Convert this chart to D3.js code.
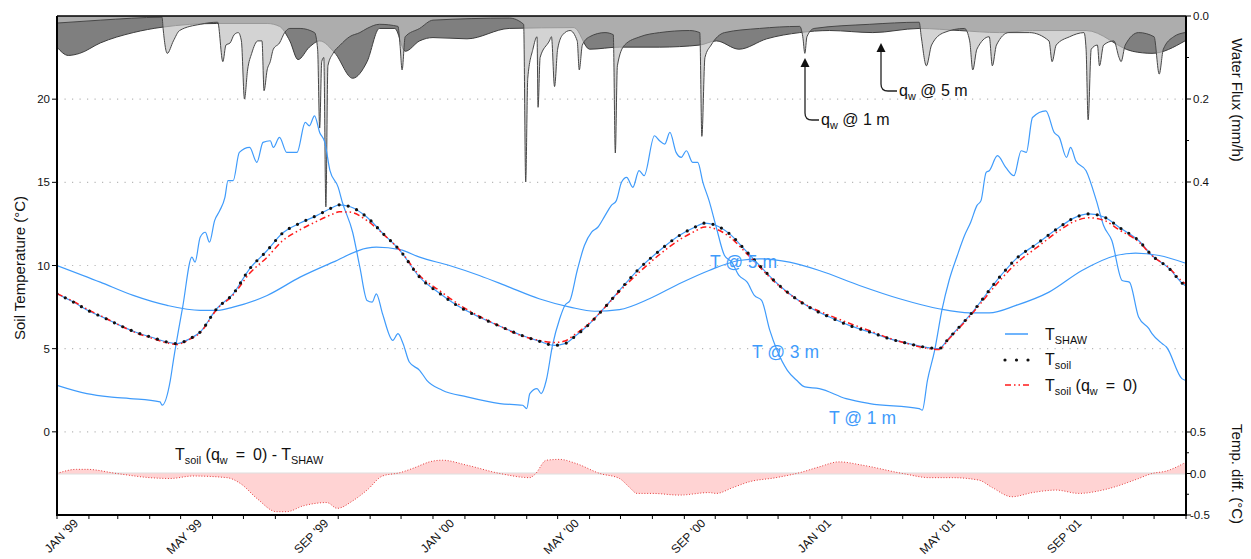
<!DOCTYPE html>
<html>
<head>
<meta charset="utf-8">
<script src="https://cdn.jsdelivr.net/npm/d3@7"></script>
<style>
  body { margin: 0; background: #fff; }
  svg { display: block; }
  text { font-family: "Liberation Sans", Arial, Helvetica, sans-serif; fill: #111; }
</style>
</head>
<body>
<svg id="chart" width="1251" height="559"></svg>
<script>
// ---- Data (day = days since 1 Jan 1999) ----
const shaw1m = [[0,2.8],[29,2.3],[51,2.1],[71,2.0],[100,1.8],[102,1.6],[110,3.1],[113,4.3],[122,7.5],[131,10.5],[134,10.2],[139,11.7],[144,12.0],[148,11.4],[153,12.7],[158,13.3],[163,14.1],[166,15.1],[171,15.1],[177,16.8],[187,17.1],[194,16.2],[200,17.4],[207,17.5],[210,17.1],[216,17.7],[223,16.8],[233,16.8],[241,18.6],[245,18.4],[250,19.0],[255,18.0],[260,17.4],[265,15.7],[273,14.7],[277,13.8],[287,12.0],[294,9.9],[301,7.9],[306,7.8],[310,8.3],[316,7.1],[326,5.5],[331,5.9],[336,5.3],[342,4.2],[352,3.7],[359,3.1],[374,2.5],[398,2.1],[430,1.7],[452,1.6],[456,1.4],[459,2.3],[466,2.6],[470,2.3],[475,3.1],[481,5.2],[488,6.8],[493,7.6],[498,7.9],[505,9.7],[512,11.2],[519,12.0],[525,12.3],[532,13.0],[538,13.6],[543,13.9],[548,15.0],[553,15.3],[559,14.7],[565,15.7],[570,15.4],[580,17.8],[585,17.5],[590,17.3],[595,18.0],[601,16.8],[606,16.5],[611,16.9],[617,16.2],[622,16.2],[627,15.0],[633,13.9],[640,12.3],[648,10.6],[655,10.2],[662,9.4],[670,9.0],[677,8.2],[684,7.9],[692,6.1],[699,4.9],[709,3.7],[718,3.1],[726,2.7],[740,2.6],[766,2.0],[789,1.7],[837,1.4],[840,1.3],[845,3.1],[852,4.9],[859,7.3],[866,9.1],[874,10.6],[881,11.8],[887,12.6],[893,13.6],[897,13.9],[902,15.6],[905,15.7],[913,16.6],[921,15.9],[929,15.4],[936,16.9],[941,16.8],[947,18.9],[960,19.3],[968,18.0],[973,17.7],[980,16.5],[984,17.1],[989,16.3],[999,15.7],[1009,13.9],[1016,12.4],[1024,11.5],[1034,9.1],[1041,9.0],[1050,6.9],[1060,6.2],[1063,5.9],[1073,5.3],[1077,5.1],[1092,3.2],[1095,3.1]];

const shaw3m = [[0,8.3],[16,7.8],[30,7.3],[46,6.85],[61,6.4],[76,6.0],[91,5.7],[107,5.4],[116,5.3],[129,5.6],[139,6.0],[155,7.4],[171,8.3],[187,9.8],[204,10.9],[219,11.95],[236,12.55],[252,13.0],[268,13.5],[274,13.65],[284,13.55],[301,12.9],[316,11.95],[333,10.9],[352,9.3],[372,8.3],[391,7.5],[410,6.9],[430,6.35],[449,5.85],[468,5.45],[483,5.2],[493,5.3],[502,5.7],[517,6.5],[532,7.5],[546,8.5],[565,9.8],[585,10.9],[604,11.8],[619,12.3],[629,12.55],[638,12.45],[653,11.9],[667,11.0],[682,10.0],[696,9.1],[711,8.3],[730,7.5],[750,6.9],[769,6.4],[789,6.0],[808,5.6],[827,5.3],[847,5.05],[856,5.0],[866,5.65],[888,7.15],[915,9.3],[931,10.4],[951,11.3],[973,12.3],[987,12.85],[1002,13.1],[1017,12.9],[1031,12.3],[1050,11.5],[1063,10.6],[1080,9.8],[1092,8.95],[1095,8.8]];

const shaw5m = [[0,10.0],[42,9.0],[74,8.2],[107,7.6],[139,7.3],[155,7.3],[171,7.5],[204,8.2],[236,9.3],[268,10.2],[301,11.05],[310,11.1],[333,10.95],[352,10.5],[381,10.0],[410,9.4],[439,8.7],[468,8.0],[498,7.5],[522,7.25],[546,7.35],[575,8.0],[604,8.9],[633,9.7],[662,10.3],[682,10.4],[711,10.2],[740,9.7],[779,8.8],[818,8.0],[856,7.4],[886,7.15],[905,7.15],[931,7.6],[963,8.4],[995,9.7],[1028,10.6],[1047,10.75],[1070,10.6],[1095,10.15]];

const soil3m = shaw3m.map(d => d.slice());

const soil3mNoFlow = [[0,8.3],[16,7.84],[30,7.35],[46,6.87],[61,6.4],[76,5.97],[91,5.65],[107,5.34],[116,5.25],[129,5.57],[139,5.96],[155,7.35],[171,8.23],[187,9.53],[204,10.5],[219,11.49],[236,12.15],[252,12.65],[268,13.1],[274,13.23],[284,13.21],[301,12.7],[316,11.92],[333,10.91],[352,9.4],[372,8.46],[391,7.62],[410,6.95],[430,6.35],[449,5.82],[468,5.5],[483,5.37],[493,5.46],[502,5.82],[517,6.54],[532,7.49],[546,8.44],[565,9.58],[585,10.66],[604,11.54],[619,12.05],[629,12.32],[638,12.23],[653,11.72],[667,10.88],[682,9.92],[696,9.05],[711,8.28],[730,7.54],[750,7.0],[769,6.53],[789,6.08],[808,5.63],[827,5.28],[847,5.0],[856,4.95],[866,5.59],[888,7.08],[915,9.08],[931,10.12],[951,11.07],[973,12.1],[987,12.63],[1002,12.87],[1017,12.7],[1031,12.15],[1050,11.43],[1063,10.6],[1080,9.83],[1092,9.07],[1095,8.93]];

const tempDiff = [[0,0],[19,0.05],[29,0.05],[58,0],[90,-0.05],[110,-0.06],[132,-0.03],[165,-0.05],[178,-0.12],[194,-0.3],[213,-0.46],[223,-0.46],[239,-0.39],[262,-0.35],[272,-0.42],[287,-0.33],[301,-0.2],[316,-0.03],[333,0.01],[345,0.06],[365,0.15],[374,0.16],[398,0.1],[430,0],[459,-0.05],[464,-0.01],[475,0.16],[488,0.17],[504,0.12],[527,0],[546,-0.06],[556,-0.17],[563,-0.24],[578,-0.24],[604,-0.26],[633,-0.23],[640,-0.24],[656,-0.17],[672,-0.1],[698,-0.05],[721,0.01],[740,0.08],[759,0.14],[782,0.1],[821,0],[847,-0.05],[869,-0.05],[895,-0.08],[908,-0.17],[927,-0.28],[947,-0.23],[970,-0.2],[992,-0.24],[1015,-0.2],[1048,-0.07],[1063,0],[1077,0.03],[1095,0.13]];

const flux5m = [[0,0.075],[11,0.095],[22,0.09],[42,0.065],[74,0.04],[102,0.027],[155,0.018],[204,0.018],[216,0.025],[226,0.06],[234,0.105],[245,0.075],[255,0.06],[270,0.09],[287,0.15],[301,0.11],[313,0.03],[328,0.03],[338,0.085],[352,0.06],[365,0.052],[398,0.055],[439,0.03],[502,0.028],[517,0.08],[546,0.075],[585,0.075],[624,0.07],[640,0.06],[662,0.08],[689,0.055],[721,0.04],[750,0.035],[792,0.04],[837,0.03],[876,0.035],[915,0.04],[947,0.035],[999,0.035],[1044,0.085],[1063,0.09],[1095,0.06]];

const flux1m = [[0,0.017],[42,0.01],[102,0.003],[103,0.03],[107,0.09],[113,0.06],[119,0.035],[139,0.02],[156,0.015],[161,0.11],[164,0.07],[168,0.065],[172,0.045],[176,0.04],[179,0.06],[182,0.2],[185,0.13],[189,0.09],[195,0.06],[199,0.06],[201,0.18],[204,0.13],[207,0.11],[210,0.08],[216,0.065],[221,0.04],[226,0.03],[236,0.03],[250,0.04],[253,0.08],[255,0.27],[257,0.11],[259,0.1],[261,0.46],[263,0.12],[268,0.09],[275,0.07],[284,0.05],[294,0.04],[301,0.03],[313,0.02],[331,0.025],[333,0.07],[335,0.13],[338,0.05],[352,0.03],[365,0.01],[439,0.005],[453,0.02],[455,0.4],[457,0.15],[462,0.08],[466,0.05],[467,0.22],[469,0.1],[478,0.06],[480,0.05],[483,0.17],[486,0.08],[491,0.045],[498,0.035],[505,0.06],[507,0.13],[510,0.07],[517,0.05],[532,0.04],[540,0.045],[542,0.33],[544,0.12],[551,0.07],[566,0.05],[585,0.04],[614,0.035],[624,0.04],[626,0.29],[629,0.1],[635,0.07],[648,0.04],[682,0.03],[721,0.025],[724,0.05],[726,0.09],[728,0.05],[735,0.03],[789,0.02],[837,0.015],[839,0.05],[844,0.12],[849,0.07],[861,0.04],[881,0.03],[886,0.06],[889,0.13],[893,0.08],[905,0.05],[908,0.12],[912,0.07],[924,0.04],[944,0.04],[963,0.06],[966,0.11],[970,0.07],[983,0.05],[997,0.04],[999,0.08],[1001,0.25],[1004,0.08],[1010,0.07],[1012,0.12],[1016,0.07],[1026,0.06],[1031,0.1],[1033,0.11],[1037,0.07],[1050,0.04],[1065,0.05],[1070,0.14],[1074,0.08],[1084,0.05],[1095,0.04]];

const tempTicks = [0, 5, 10, 15, 20];
const fluxTicks = [0, 0.2, 0.4];
const fluxMinor = [0.1, 0.3];
const diffTicks = [0.5, 0, -0.5];
const diffMinor = [0.25, -0.25];
const monthNames = ["JAN","FEB","MAR","APR","MAY","JUN","JUL","AUG","SEP","OCT","NOV","DEC"];

// ---- Scales ----
const START = new Date(1999, 0, 1), END = new Date(2002, 0, 1);
const X0 = 57, X1 = 1186, Y0 = 16, Y1 = 515;
const x = d3.scaleTime().domain([START, END]).range([X0, X1]);
const yT = d3.scaleLinear().domain([-5, 25]).range([Y1, Y0]);
const yQ = d3.scaleLinear().domain([0, 0.4]).range([Y0, 182]);
const yD = d3.scaleLinear().domain([-0.5, 0.5]).range([Y1, 432]);
const day = d => d3.timeDay.offset(START, d);

const BLUE = "#3f9bfb";
const svg = d3.select("#chart");

svg.append("defs").append("clipPath").attr("id", "plot")
  .append("rect").attr("x", X0).attr("y", Y0).attr("width", X1 - X0).attr("height", Y1 - Y0);

// ---- Grid ----
svg.append("g").selectAll("line").data(tempTicks).join("line")
  .attr("x1", X0).attr("x2", X1)
  .attr("y1", d => yT(d)).attr("y2", d => yT(d))
  .attr("stroke", "#b8b8b8").attr("stroke-width", 1.2)
  .attr("stroke-dasharray", "1.2,6.3");

const plot = svg.append("g").attr("clip-path", "url(#plot)");

// ---- Temperature difference panel ----
plot.append("line").attr("x1", X0).attr("x2", X1)
  .attr("y1", yD(0)).attr("y2", yD(0))
  .attr("stroke", "#dedede").attr("stroke-width", 2);
plot.append("path").datum(tempDiff)
  .attr("d", d3.area().x(d => x(day(d[0]))).y0(yD(0)).y1(d => yD(d[1])).curve(d3.curveMonotoneX))
  .attr("fill", "#ffd3d3");
plot.append("path").datum(tempDiff)
  .attr("d", d3.line().x(d => x(day(d[0]))).y(d => yD(d[1])).curve(d3.curveMonotoneX))
  .attr("fill", "none").attr("stroke", "#e43b3b").attr("stroke-width", 1)
  .attr("stroke-dasharray", "1,1.8");

// ---- Water flux (drawn downward from the top) ----
const fluxArea = d3.area().x(d => x(day(d[0]))).y0(yQ(0)).y1(d => yQ(d[1])).curve(d3.curveMonotoneX);
const fluxLine = d3.line().x(d => x(day(d[0]))).y(d => yQ(d[1])).curve(d3.curveMonotoneX);
plot.append("path").datum(flux5m).attr("d", fluxArea).attr("fill", "#7f7f7f");
plot.append("path").datum(flux5m).attr("d", fluxLine)
  .attr("fill", "none").attr("stroke", "#3c3c3c").attr("stroke-width", 1);
plot.append("path").datum(flux1m).attr("d", fluxArea).attr("fill", "#c0c0c0").attr("fill-opacity", 0.7);
plot.append("path").datum(flux1m).attr("d", fluxLine)
  .attr("fill", "none").attr("stroke", "#474747").attr("stroke-width", 1);

// ---- Soil temperatures ----
const tLine = d3.line().x(d => x(day(d[0]))).y(d => yT(d[1])).curve(d3.curveMonotoneX);
[shaw5m, shaw3m, shaw1m].forEach(s => {
  plot.append("path").datum(s).attr("d", tLine)
    .attr("fill", "none").attr("stroke", BLUE).attr("stroke-width", 1.2);
});
plot.append("path").datum(soil3mNoFlow).attr("d", tLine)
  .attr("fill", "none").attr("stroke", "#ff1a1a").attr("stroke-width", 1.5)
  .attr("stroke-dasharray", "6,3,1.5,3,1.5,3");
plot.append("path").datum(soil3m).attr("d", tLine)
  .attr("fill", "none").attr("stroke", "#111").attr("stroke-width", 3.2)
  .attr("stroke-linecap", "round").attr("stroke-dasharray", "0,9.2");

// ---- Frame and axes ----
const frame = svg.append("g").attr("stroke", "#000");
frame.append("line").attr("x1", X0).attr("x2", X1).attr("y1", Y0).attr("y2", Y0).attr("stroke-width", 1.5);
frame.append("line").attr("x1", X0).attr("x2", X0).attr("y1", Y0).attr("y2", Y1 + 1).attr("stroke-width", 2);
frame.append("line").attr("x1", X0 - 1).attr("x2", X1 + 1).attr("y1", Y1).attr("y2", Y1).attr("stroke-width", 2);
frame.append("line").attr("x1", X1).attr("x2", X1).attr("y1", Y0).attr("y2", Y1 + 1).attr("stroke-width", 2);

// left: soil temperature
const gl = svg.append("g");
tempTicks.forEach(t => {
  gl.append("line").attr("x1", X0 - 5).attr("x2", X0).attr("y1", yT(t)).attr("y2", yT(t)).attr("stroke", "#000");
  gl.append("text").attr("x", X0 - 7).attr("y", yT(t)).attr("dy", "0.35em")
    .attr("text-anchor", "end").attr("font-size", 11.5).text(t);
});
svg.append("text").attr("transform", `translate(25,268) rotate(-90)`)
  .attr("text-anchor", "middle").attr("font-size", 15).text("Soil Temperature (°C)");

// right: water flux and temperature difference
const gr = svg.append("g");
const rightTick = (y, len) => gr.append("line").attr("x1", X1).attr("x2", X1 + len)
  .attr("y1", y).attr("y2", y).attr("stroke", "#000");
fluxTicks.forEach(q => {
  rightTick(yQ(q), 5);
  gr.append("text").attr("x", X1 + 7).attr("y", yQ(q)).attr("dy", "0.35em")
    .attr("font-size", 11.5).text(d3.format(".1f")(q));
});
fluxMinor.forEach(q => rightTick(yQ(q), 3));
diffTicks.forEach(v => {
  rightTick(yD(v), 5);
  gr.append("text").attr("x", X1 + 4).attr("y", yD(v)).attr("dy", "0.35em")
    .attr("font-size", 11.5).text(v < 0 ? "-" + d3.format(".1f")(-v) : d3.format(".1f")(v));
});
diffMinor.forEach(v => rightTick(yD(v), 3));
svg.append("text").attr("transform", "translate(1232,100) rotate(90)")
  .attr("text-anchor", "middle").attr("font-size", 15).text("Water Flux (mm/h)");
svg.append("text").attr("transform", "translate(1232,474) rotate(90)")
  .attr("text-anchor", "middle").attr("font-size", 15).text("Temp. diff. (°C)");

// bottom: months
const gb = svg.append("g");
d3.timeMonth.range(START, d3.timeDay.offset(END, 1)).forEach(m => {
  const px = x(m);
  gb.append("line").attr("x1", px).attr("x2", px).attr("y1", Y1).attr("y2", Y1 + 4).attr("stroke", "#000");
  if (m.getMonth() % 4 === 0 && m < END) {
    const label = monthNames[m.getMonth()] + " '" + String(m.getFullYear()).slice(2);
    gb.append("text").attr("transform", `translate(${px + 22},524) rotate(-45)`)
      .attr("text-anchor", "end").attr("font-size", 12).text(label);
  }
});

// ---- Rich text helper (subscripts) ----
function rich(parent, px, py, parts, size, color) {
  const t = parent.append("text").attr("x", px).attr("y", py).attr("font-size", size)
    .style("white-space", "pre");
  if (color) t.style("fill", color);
  let shift = 0;
  parts.forEach(p => {
    const sub = typeof p !== "string";
    const off = sub ? 4 : 0;
    const ts = t.append("tspan").attr("dy", off - shift).text(sub ? p.s : p);
    if (sub) ts.attr("font-size", size * 0.68);
    shift = off;
  });
  return t;
}

// ---- Annotations ----
const ann = svg.append("g");
ann.append("text").attr("x", 710).attr("y", 268).attr("font-size", 17.5).style("fill", BLUE).text("T @ 5 m");
ann.append("text").attr("x", 752).attr("y", 358).attr("font-size", 17.5).style("fill", BLUE).text("T @ 3 m");
ann.append("text").attr("x", 829).attr("y", 424).attr("font-size", 17.5).style("fill", BLUE).text("T @ 1 m");

ann.append("path").attr("d", "M805,66 L805,113 Q805,120 812,120 L819,120")
  .attr("fill", "none").attr("stroke", "#222").attr("stroke-width", 1.3);
ann.append("path").attr("d", "M805,58 L800.5,67 L809.5,67 Z").attr("fill", "#111");
rich(ann, 821, 125, ["q", {s: "w"}, " @ 1 m"], 16);

ann.append("path").attr("d", "M881,51 L881,84 Q881,91 888,91 L897,91")
  .attr("fill", "none").attr("stroke", "#222").attr("stroke-width", 1.3);
ann.append("path").attr("d", "M881,43 L876.5,52 L885.5,52 Z").attr("fill", "#111");
rich(ann, 899, 96, ["q", {s: "w"}, " @ 5 m"], 16);

rich(ann, 175, 460, ["T", {s: "soil"}, " (q", {s: "w"}, "\u2002=\u20020) - T", {s: "SHAW"}], 16);

// ---- Legend ----
const lg = svg.append("g");
lg.append("line").attr("x1", 1005).attr("x2", 1028).attr("y1", 334).attr("y2", 334)
  .attr("stroke", BLUE).attr("stroke-width", 1.5);
lg.append("line").attr("x1", 1005).attr("x2", 1030).attr("y1", 360).attr("y2", 360)
  .attr("stroke", "#111").attr("stroke-width", 3.2).attr("stroke-linecap", "round")
  .attr("stroke-dasharray", "0,11.5");
lg.append("line").attr("x1", 1005).attr("x2", 1029).attr("y1", 385).attr("y2", 385)
  .attr("stroke", "#ff1a1a").attr("stroke-width", 1.5).attr("stroke-dasharray", "6,3,1.5,3,1.5,3");
rich(lg, 1045, 340, ["T", {s: "SHAW"}], 16);
rich(lg, 1045, 365, ["T", {s: "soil"}], 16);
rich(lg, 1045, 391, ["T", {s: "soil"}, " (q", {s: "w"}, "\u2002=\u20020)"], 16);
</script>
</body>
</html>
